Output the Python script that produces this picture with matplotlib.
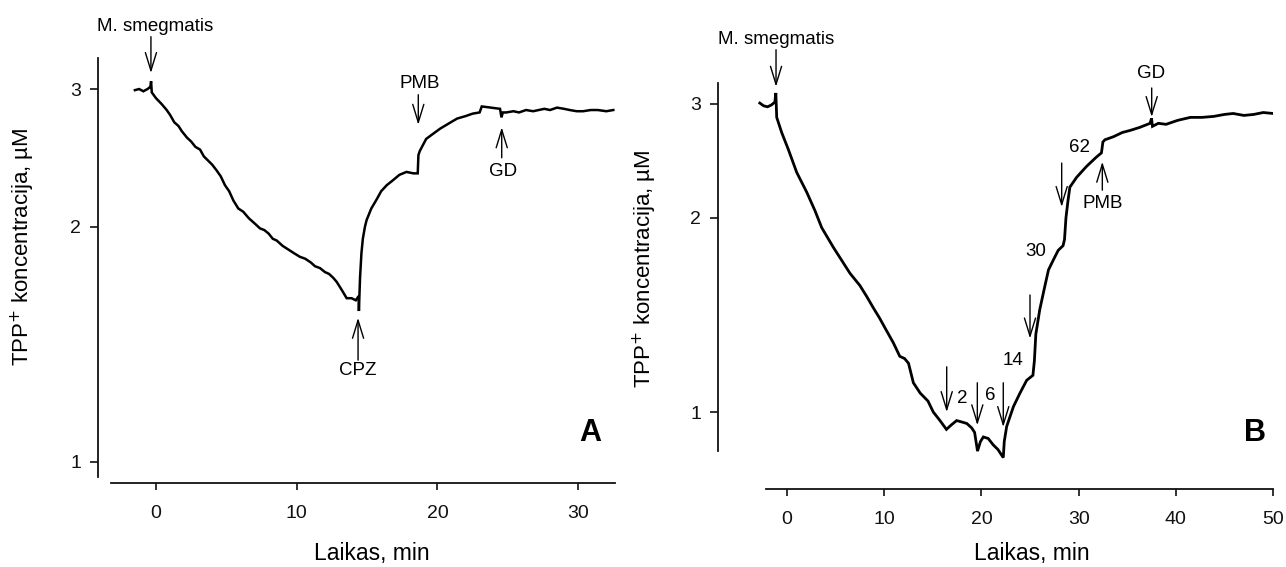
import matplotlib
matplotlib.use("Agg")
import matplotlib.pyplot as plt
from matplotlib.ticker import NullLocator, FixedLocator, FixedFormatter

plt.rcParams['font.family'] = ['Liberation Sans', 'DejaVu Sans']

# ---------------- data ----------------
# Panel A: time (min) and TPP+ concentration (uM)
a_time = [-1.5, -1.2, -0.9, -0.6, -0.4, -0.35, -0.3, 0.0, 0.4, 0.76, 1.0, 1.3, 1.6,
          1.83, 2.2, 2.5, 2.8, 3.13, 3.4, 3.7, 4.0, 4.31, 4.6, 4.9, 5.2, 5.5,
          5.85, 6.2, 6.6, 7.0, 7.39, 7.7, 8.0, 8.3, 8.58, 9.0, 9.4, 9.8,
          10.23, 10.6, 11.0, 11.3, 11.66, 12.0, 12.3, 12.6, 12.84, 13.2, 13.55,
          13.9, 14.2, 14.4, 14.42, 14.5, 14.6, 14.7, 14.85, 14.97, 15.3, 15.7,
          16.0, 16.4, 16.8, 17.3, 17.8, 18.3, 18.6, 18.65, 18.75, 19.2, 19.7,
          20.2, 20.8, 21.4, 22.0, 22.5, 23.0, 23.15, 23.8, 24.45, 24.55, 24.65,
          24.9, 25.4, 25.8, 26.3, 26.8, 27.2, 27.6, 28.0, 28.5, 29.0, 29.4,
          29.9, 30.35, 30.9, 31.4, 32.0, 32.5]
a_conc = [2.99, 3.00, 2.98, 3.00, 3.02, 3.07, 2.97, 2.92, 2.87, 2.82, 2.78, 2.72,
          2.69, 2.65, 2.60, 2.57, 2.53, 2.51, 2.46, 2.43, 2.40, 2.36, 2.32, 2.26,
          2.22, 2.16, 2.11, 2.09, 2.05, 2.02, 1.99, 1.98, 1.96, 1.93, 1.92,
          1.89, 1.87, 1.85, 1.83, 1.82, 1.80, 1.78, 1.77, 1.75, 1.74, 1.72,
          1.70, 1.66, 1.62, 1.62, 1.61, 1.63, 1.56, 1.72, 1.85, 1.93, 2.00,
          2.04, 2.11, 2.17, 2.22, 2.26, 2.29, 2.33, 2.35, 2.34, 2.34, 2.47,
          2.50, 2.59, 2.63, 2.67, 2.71, 2.75, 2.77, 2.79, 2.80, 2.85, 2.84,
          2.83, 2.76, 2.80, 2.80, 2.81, 2.80, 2.82, 2.81, 2.82, 2.83, 2.82,
          2.84, 2.83, 2.82, 2.81, 2.81, 2.82, 2.82, 2.81, 2.82]

# Panel B
b_time = [-2.8, -2.4, -2.0, -1.6, -1.25, -1.15, -1.06, -0.55, 0.14, 1.0, 2.03,
          2.88, 3.57, 4.76, 5.6, 6.48, 7.5, 8.2, 8.88, 9.5, 10.08, 10.94, 11.6,
          12.1, 12.5, 13.0, 13.7, 14.5, 15.05, 15.74, 16.4, 16.9, 17.45, 18.0,
          18.5, 19.0, 19.3, 19.6, 19.9, 20.2, 20.7, 21.2, 21.7, 22.25, 22.35,
          22.6, 23.3, 23.97, 24.66, 25.3, 25.45, 25.6, 26.0, 26.5, 26.9, 27.4,
          27.9, 28.4, 28.55, 28.7, 28.9, 29.1, 29.8, 30.8, 31.8, 32.35, 32.5,
          32.7, 33.6, 34.5, 35.3, 36.3, 37.35, 37.5, 37.6, 38.2, 39.0, 40.2,
          41.5, 42.7, 43.9, 45.0, 45.9, 47.0, 48.0, 49.0, 50.0]
b_conc = [3.01, 2.98, 2.97, 2.99, 3.02, 3.12, 2.86, 2.71, 2.55, 2.35, 2.19,
          2.05, 1.93, 1.80, 1.72, 1.64, 1.57, 1.51, 1.45, 1.40, 1.35, 1.28, 1.22,
          1.21, 1.19, 1.11, 1.07, 1.04, 1.00, 0.97, 0.94, 0.955, 0.97, 0.965,
          0.96, 0.945, 0.93, 0.87, 0.90, 0.915, 0.91, 0.89, 0.875, 0.85, 0.90,
          0.95, 1.02, 1.07, 1.12, 1.14, 1.20, 1.32, 1.44, 1.56, 1.66, 1.72,
          1.78, 1.81, 1.85, 2.00, 2.12, 2.23, 2.31, 2.40, 2.48, 2.52, 2.62,
          2.64, 2.67, 2.71, 2.73, 2.76, 2.80, 2.85, 2.77, 2.80, 2.79, 2.83,
          2.86, 2.86, 2.87, 2.89, 2.90, 2.88, 2.89, 2.91, 2.90]

y_ticks = [1, 2, 3]
y_ticklabels = ['1', '2', '3']
a_xticks = [0, 10, 20, 30]
b_xticks = [0, 10, 20, 30, 40, 50]

# Event markers: (label, time, arrow head conc, arrow tail conc, label time, label conc)
a_events = [
    ('M. smegmatis', -0.36, 3.145, 3.50, -0.07, 3.61),
    ('PMB', 18.64, 2.70, 2.95, 18.76, 3.045),
    ('GD', 24.57, 2.68, 2.45, 24.66, 2.35),
    ('CPZ', 14.36, 1.529, 1.35, 14.36, 1.31),
]
b_events = [
    ('M. smegmatis', -1.13, 3.19, 3.64, -1.13, 3.78),
    ('2', 16.43, 1.00, 1.175, 18.0, 1.051),
    ('6', 19.58, 0.954, 1.11, 20.88, 1.059),
    ('14', 22.25, 0.948, 1.11, 23.25, 1.20),
    ('30', 25.0, 1.30, 1.518, 25.62, 1.77),
    ('62', 28.26, 2.078, 2.43, 30.14, 2.57),
    ('PMB', 32.44, 2.441, 2.206, 32.5, 2.10),
    ('GD', 37.52, 2.864, 3.176, 37.45, 3.35),
]

xlabel = 'Laikas, min'
ylabel = 'TPP$^{+}$ koncentracija, \u00b5M'

# ---------------- figure ----------------
W, H = 1286, 567
fig = plt.figure(figsize=(W / 100, H / 100), dpi=100)


def px_axes(l, t, r, b):
    return fig.add_axes([l / W, 1 - b / H, (r - l) / W, (b - t) / H])


axA = px_axes(98, 58, 615, 483)
axB = px_axes(718, 83, 1273, 489)

panels = [
    (axA, a_time, a_conc, a_xticks, a_events, (-4.122, 32.62), (0.940, 3.287),
     (-3.199, 32.62), (0.9568, 3.287), 'A', (30.85, 1.089),
     (0.530, -0.138), (-0.118, 0.556), 1.8),
    (axB, b_time, b_conc, b_xticks, b_events, (-7.10, 50.0), (0.760, 3.233),
     (-2.16, 50.0), (0.870, 3.233), 'B', (48.15, 0.927),
     (0.566, -0.130), (-0.106, 0.543), 2.0),
]

for (ax, t, c, xt, events, xl, yl, xb, yb, letter, lpos, xlc, ylc, lw) in panels:
    ax.plot(t, c, color='black', lw=lw, solid_joinstyle='miter')
    ax.set_yscale('log')
    ax.set_xlim(*xl)
    ax.set_ylim(*yl)
    ax.yaxis.set_major_locator(FixedLocator(y_ticks))
    ax.yaxis.set_major_formatter(FixedFormatter(y_ticklabels))
    ax.yaxis.set_minor_locator(NullLocator())
    ax.set_xticks(xt)
    ax.set_xticklabels([str(v) for v in xt])
    for s in ['top', 'right']:
        ax.spines[s].set_visible(False)
    ax.spines['left'].set_bounds(*yb)
    ax.spines['bottom'].set_bounds(*xb)
    for s in ['left', 'bottom']:
        ax.spines[s].set_linewidth(1.3)
        ax.spines[s].set_color('#111111')
    ax.tick_params(axis='y', direction='out', length=5.8, width=1.2,
                   labelsize=14, pad=6.5, colors='#111111')
    ax.tick_params(axis='x', direction='out', length=5.0, width=1.2,
                   labelsize=14, pad=10.5, colors='#111111')
    ax.set_facecolor('none')

    ax.set_xlabel(xlabel, fontsize=16.5)
    ax.xaxis.set_label_coords(*xlc)
    ax.set_ylabel(ylabel, fontsize=16)
    ax.yaxis.set_label_coords(*ylc)

    for (lab, et, head, tail, lt, lc) in events:
        ax.annotate('', xy=(et, head), xytext=(et, tail),
                    arrowprops=dict(arrowstyle='->,head_length=1.3,head_width=0.4',
                                    lw=1.0, color='black', mutation_scale=10,
                                    shrinkA=0, shrinkB=0),
                    annotation_clip=False)
        ax.text(lt, lc, lab, ha='center', va='center', fontsize=13.5,
                clip_on=False)

    ax.text(lpos[0], lpos[1], letter, ha='center', va='center', fontsize=22,
            fontweight='bold')

fig.savefig('out.png', dpi=100)
